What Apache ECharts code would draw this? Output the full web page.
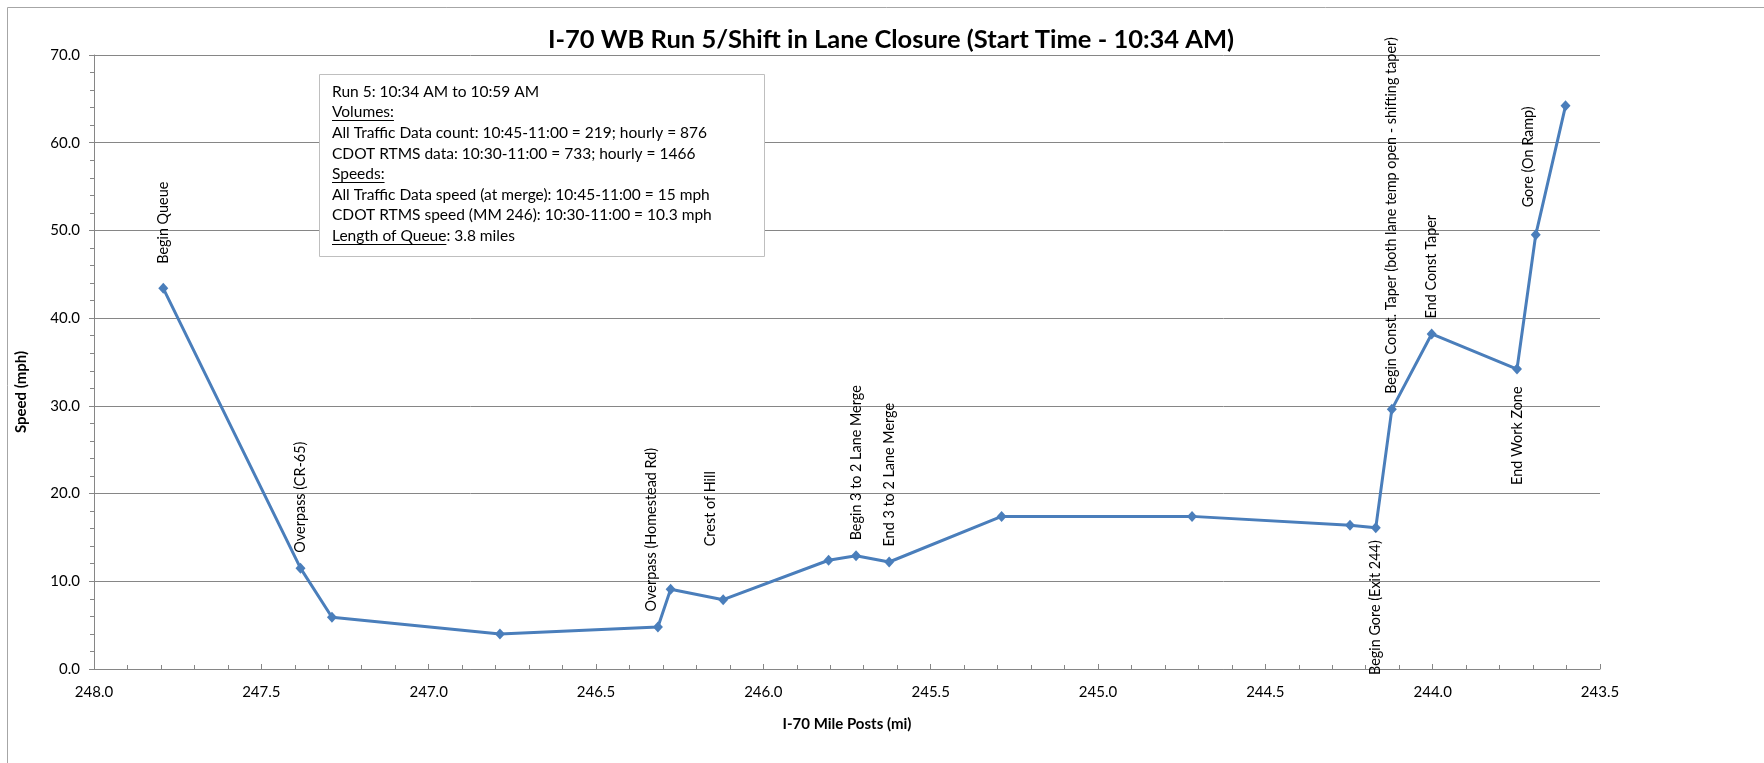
<!DOCTYPE html>
<html>
<head>
<meta charset="utf-8">
<title>I-70 WB Run 5</title>
<script src="https://cdn.jsdelivr.net/npm/echarts@6/dist/echarts.min.js"></script>
<style>
  html, body { margin: 0; padding: 0; background: #fff; }
  #chart { width: 1764px; height: 763px; }
</style>
</head>
<body>
<div id="chart"></div>
<script>
// run points, westbound so mile posts go down
const milePosts = [247.793, 247.383, 247.289, 246.787, 246.315, 246.277, 246.120, 245.805, 245.723, 245.624,
  245.288, 244.719, 244.247, 244.170, 244.122, 244.003, 243.748, 243.692, 243.603];
const speeds = [43.4, 11.5, 5.9, 4.0, 4.8, 9.1, 7.9, 12.4, 12.9, 12.2,
  17.4, 17.4, 16.4, 16.1, 29.6, 38.2, 34.2, 49.5, 64.2];
const landmarks = ['Begin Queue', 'Overpass (CR-65)', '', '', 'Overpass (Homestead Rd)', '', 'Crest of Hill', '',
  'Begin 3 to 2 Lane Merge', 'End 3 to 2 Lane Merge', '', '', '', 'Begin Gore (Exit 244)',
  'Begin Const. Taper (both lane temp open - shifting taper)', 'End Const Taper', 'End Work Zone', 'Gore (On Ramp)', ''];

const xRange = [243.5, 248];
const yRange = [0, 70];

const chartTitle = 'I-70 WB Run 5/Shift in Lane Closure (Start Time - 10:34 AM)';
const xAxisTitle = 'I-70 Mile Posts (mi)';
const yAxisTitle = 'Speed (mph)';

const noteLines = [
  'Run 5: 10:34 AM to 10:59 AM',
  'Volumes:',
  'All Traffic Data count: 10:45-11:00 = 219; hourly = 876',
  'CDOT RTMS data: 10:30-11:00 = 733; hourly = 1466',
  'Speeds:',
  'All Traffic Data speed (at merge): 10:45-11:00 = 15 mph',
  'CDOT RTMS speed (MM 246): 10:30-11:00 = 10.3 mph',
  'Length of Queue: 3.8 miles'
];
const noteUnderlined = ['Volumes:', 'Speeds:', 'Length of Queue'];

// label tweaks (the excel labels were dragged around a bit)
const labelPlace = {
  'Begin Queue': { gap: 24 },
  'Overpass (Homestead Rd)': { dx: -7 },
  'Crest of Hill': { gap: 53, dx: -13 },
  'Gore (On Ramp)': { gap: 27, dx: -7 },
  'Begin Gore (Exit 244)': { below: true, gap: 12 },
  'End Work Zone': { below: true, gap: 17 }
};

const FONT = 'Lato';
const GRAY = '#868686';
const BLUE = '#4a7ebb';

const seriesData = milePosts.map((m, i) => {
  const name = landmarks[i];
  const item = { value: [m, speeds[i]], name: name };
  if (!name) return item;
  const p = Object.assign({ gap: 15, dx: 0, below: false }, labelPlace[name]);
  item.label = {
    show: true,
    formatter: name,
    position: p.below ? 'bottom' : 'top',
    distance: p.gap - 5,
    rotate: 90,
    align: p.below ? 'right' : 'left',
    verticalAlign: 'middle',
    // offset gets turned with the label, so x shift goes in the 2nd slot
    offset: [0, p.dx]
  };
  return item;
});

// text box with underlines
const NOTE_SIZE = 15.5;
const measureCtx = document.createElement('canvas').getContext('2d');
measureCtx.font = NOTE_SIZE + 'px ' + FONT;
const box = { x: 319.5, y: 74.5, w: 445, h: 182, textX: 332, firstY: 91.7, step: 20.6 };
const noteGraphics = [{
  type: 'rect', z: 10,
  shape: { x: box.x, y: box.y, width: box.w, height: box.h },
  style: { fill: '#fff', stroke: '#bfbfbf', lineWidth: 1 }
}];
noteLines.forEach((line, i) => {
  const cy = box.firstY + i * box.step;
  noteGraphics.push({
    type: 'text', z: 11, x: box.textX, y: cy,
    style: { text: line, fontSize: NOTE_SIZE, fontFamily: FONT, fill: '#000', verticalAlign: 'middle' }
  });
  const u = noteUnderlined.find(s => line.indexOf(s) === 0);
  if (u) {
    const w = measureCtx.measureText(u).width;
    const uy = Math.round(cy + 8) + 0.5;
    noteGraphics.push({
      type: 'line', z: 11,
      shape: { x1: box.textX, y1: uy, x2: box.textX + w, y2: uy },
      style: { stroke: '#000', lineWidth: 1 }
    });
  }
});

const myChart = echarts.init(document.getElementById('chart'));

const option = {
  animation: false,
  backgroundColor: '#fff',
  title: {
    text: chartTitle,
    left: 886, top: 22, textAlign: 'center',
    textStyle: { fontFamily: FONT, fontSize: 25.5, fontWeight: 'bold', color: '#000' }
  },
  grid: { left: 94, top: 55, width: 1506, height: 614, containLabel: false },
  xAxis: {
    type: 'value', inverse: true,
    min: xRange[0], max: xRange[1], interval: 0.5,
    name: xAxisTitle, nameLocation: 'middle', nameGap: 48,
    nameTextStyle: { fontFamily: FONT, fontSize: 15, fontWeight: 'bold', color: '#000' },
    axisLine: { show: true, onZero: false, lineStyle: { color: GRAY, width: 1 } },
    axisTick: { show: true, inside: true, length: 5, lineStyle: { color: GRAY } },
    minorTick: { show: true, splitNumber: 5, length: 4, lineStyle: { color: GRAY } },
    axisLabel: { formatter: v => v.toFixed(1), fontFamily: FONT, fontSize: 15, color: '#000', margin: 16 },
    splitLine: { show: false }
  },
  yAxis: {
    type: 'value',
    min: yRange[0], max: yRange[1], interval: 10,
    axisLine: { show: true, lineStyle: { color: GRAY, width: 1 } },
    axisTick: { show: true, length: 5, lineStyle: { color: GRAY } },
    minorTick: { show: true, splitNumber: 5, length: 4, lineStyle: { color: GRAY } },
    axisLabel: { formatter: v => v.toFixed(1), fontFamily: FONT, fontSize: 15, color: '#000', margin: 14 },
    splitLine: { show: true, lineStyle: { color: GRAY, width: 1 } }
  },
  series: [{
    type: 'line',
    data: seriesData,
    symbol: 'diamond',
    symbolSize: [10, 11],
    lineStyle: { color: BLUE, width: 3 },
    itemStyle: { color: BLUE },
    label: { fontFamily: FONT, fontSize: 14.4, color: '#000' },
    z: 5
  }],
  graphic: [
    {
      type: 'rect', z: 0, silent: true,
      shape: { x: 7.5, y: 7.5, width: 1800, height: 800 },
      style: { fill: 'none', stroke: '#a6a6a6', lineWidth: 1 }
    },
    {
      type: 'text', x: 21, y: 392, rotation: Math.PI / 2,
      style: { text: yAxisTitle, fontFamily: FONT, fontSize: 15, fontWeight: 'bold', fill: '#000', align: 'center', verticalAlign: 'middle' }
    }
  ].concat(noteGraphics)
};

myChart.setOption(option);
</script>
</body>
</html>
